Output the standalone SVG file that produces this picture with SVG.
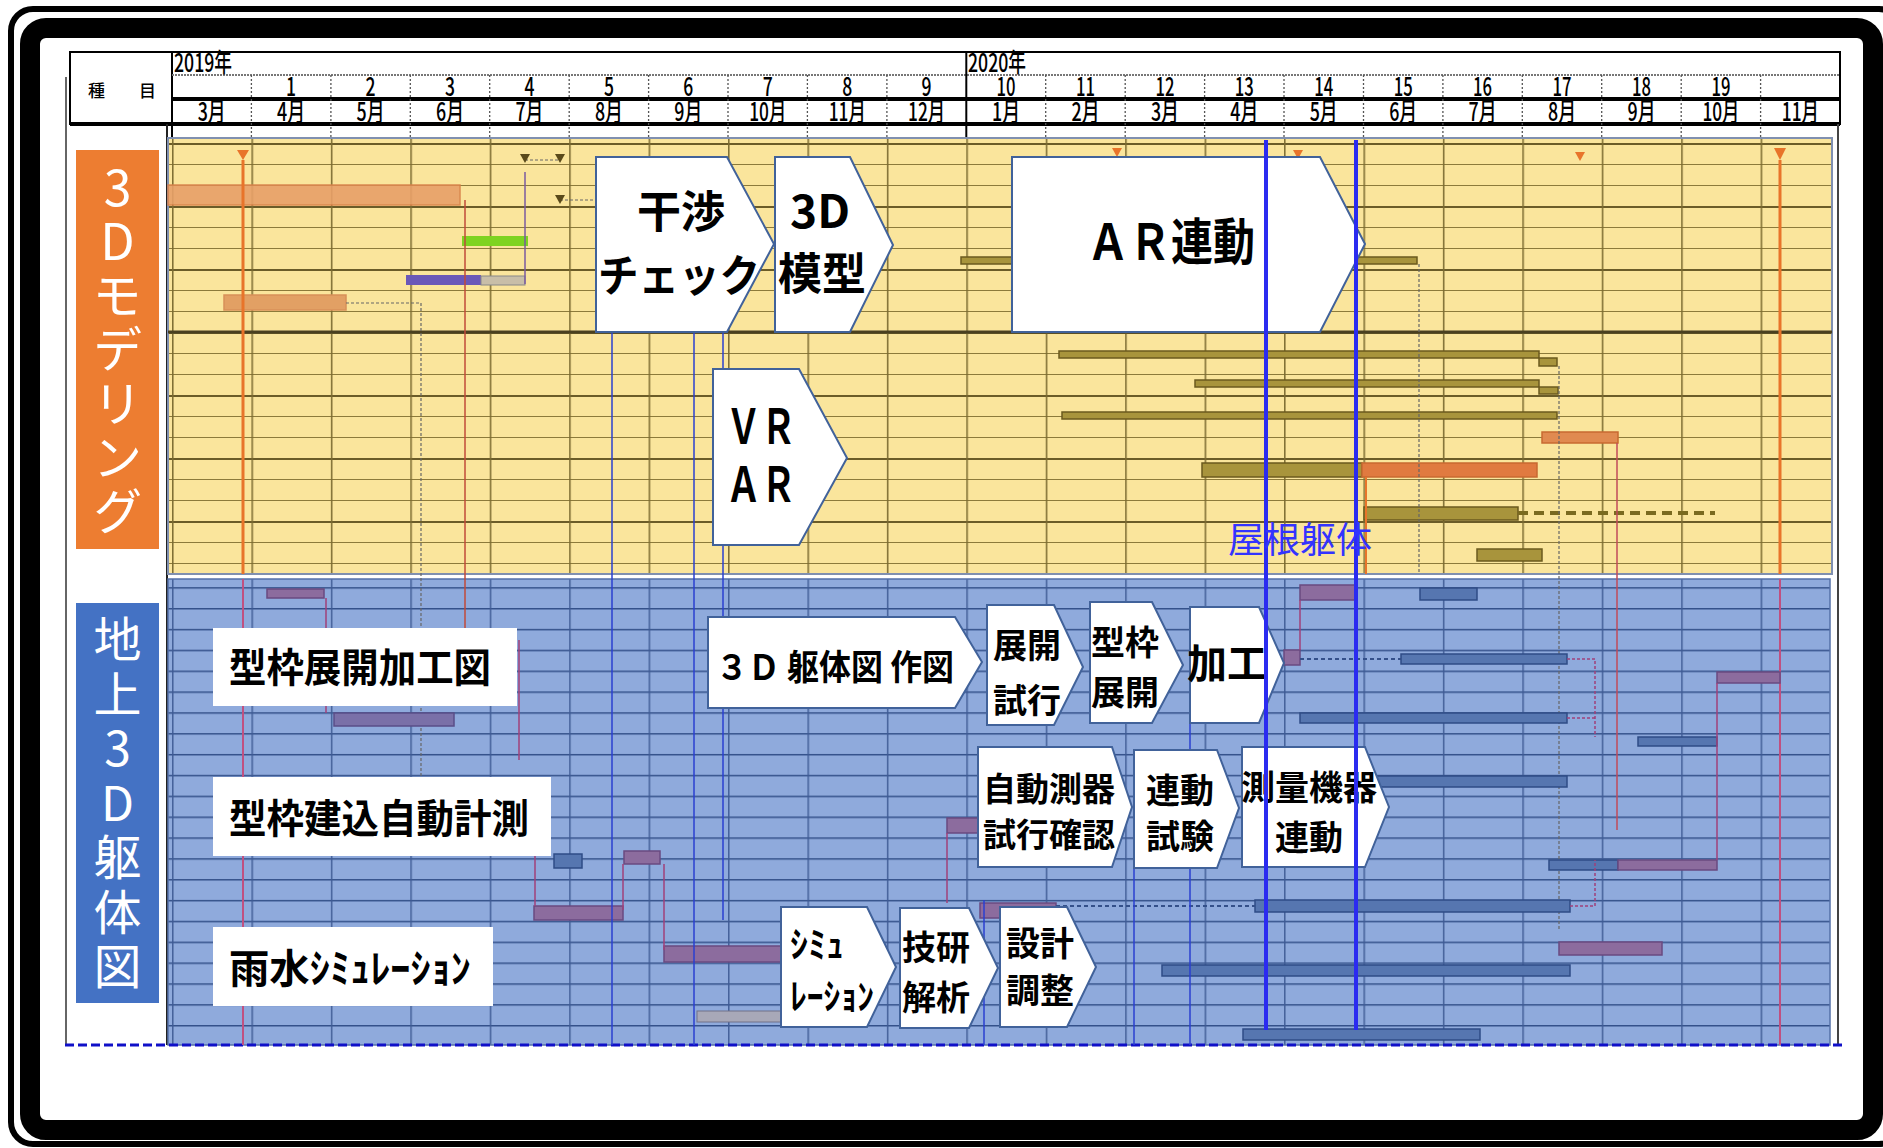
<svg xmlns="http://www.w3.org/2000/svg" width="1883" height="1148" viewBox="0 0 1883 1148">
<style>
.hd{font-family:"Noto Sans CJK JP","DejaVu Sans",sans-serif;font-size:26px;font-weight:500;fill:#000;text-anchor:middle}
.lbl{font-family:"Noto Sans CJK JP",sans-serif;fill:#fff;writing-mode:vertical-rl;text-orientation:upright}
.co{fill:#fff;stroke:#41629A;stroke-width:2}
.ct{font-family:"Noto Sans CJK JP",sans-serif;font-weight:700;fill:#000;text-anchor:middle}
.cl{font-family:"Noto Sans CJK JP",sans-serif;font-weight:700;fill:#000}
.ob{fill:#A8943C;stroke:#6B5A1E;stroke-width:1.5}
.bb{fill:#5676B0;stroke:#2F4C86;stroke-width:1.5}
.pb{fill:#8C6C9E;stroke:#6A4A80;stroke-width:1.5}
.bl{stroke:#2A3FD0;stroke-width:1.5;fill:none}
.pl{stroke:#A0407A;stroke-width:1.5;fill:none}
.cd{stroke:#666;stroke-width:1.2;stroke-dasharray:3 2}
</style>
<defs>
<pattern id="gy" x="172" y="206" width="79.43" height="63" patternUnits="userSpaceOnUse">
<rect width="79.43" height="63" fill="#FAE59C"/>
<line x1="0" y1="1" x2="79.43" y2="1" stroke="#6B5C28" stroke-width="2"/>
<line x1="0" y1="21.5" x2="79.43" y2="21.5" stroke="#8C7A3A" stroke-width="1.2"/>
<line x1="0" y1="42.5" x2="79.43" y2="42.5" stroke="#8C7A3A" stroke-width="1.2"/>
<line x1="0.8" y1="0" x2="0.8" y2="63" stroke="#7A6A30" stroke-width="1.5"/>
</pattern>
<pattern id="gb" x="172" y="608" width="79.43" height="20.85" patternUnits="userSpaceOnUse">
<rect width="79.43" height="20.85" fill="#8FAADC"/>
<line x1="0" y1="0.7" x2="79.43" y2="0.7" stroke="#34518A" stroke-width="1.4"/>
<line x1="0.8" y1="0" x2="0.8" y2="20.85" stroke="#3E5A94" stroke-width="1.4"/>
</pattern>
</defs>
<rect width="1883" height="1148" fill="#fff"/>
<rect x="11" y="9" width="1890" height="1135" rx="22" fill="none" stroke="#000" stroke-width="6"/>
<rect x="30" y="28" width="1843" height="1102" rx="16" fill="none" stroke="#000" stroke-width="20"/>

<g id="header">
<rect x="70" y="52" width="1770" height="72" fill="#fff" stroke="#000" stroke-width="2"/>
<line x1="172" y1="52" x2="172" y2="138" stroke="#000" stroke-width="2"/>
<line x1="172" y1="75" x2="1840" y2="75" stroke="#777" stroke-width="2" stroke-dasharray="2 1"/>
<line x1="172" y1="99" x2="1840" y2="99" stroke="#000" stroke-width="4"/>
<line x1="70" y1="124" x2="1840" y2="124" stroke="#000" stroke-width="4"/>
<g stroke="#555" stroke-width="1.3" stroke-dasharray="2 2">
<line x1="251.4" y1="75" x2="251.4" y2="138"/><line x1="330.9" y1="75" x2="330.9" y2="138"/>
<line x1="410.3" y1="75" x2="410.3" y2="138"/><line x1="489.7" y1="75" x2="489.7" y2="138"/>
<line x1="569.2" y1="75" x2="569.2" y2="138"/><line x1="648.6" y1="75" x2="648.6" y2="138"/>
<line x1="728" y1="75" x2="728" y2="138"/><line x1="807.4" y1="75" x2="807.4" y2="138"/>
<line x1="886.9" y1="75" x2="886.9" y2="138"/>
<line x1="1045.7" y1="75" x2="1045.7" y2="138"/><line x1="1125.2" y1="75" x2="1125.2" y2="138"/>
<line x1="1204.6" y1="75" x2="1204.6" y2="138"/><line x1="1284" y1="75" x2="1284" y2="138"/>
<line x1="1363.5" y1="75" x2="1363.5" y2="138"/><line x1="1442.9" y1="75" x2="1442.9" y2="138"/>
<line x1="1522.3" y1="75" x2="1522.3" y2="138"/><line x1="1601.7" y1="75" x2="1601.7" y2="138"/>
<line x1="1681.2" y1="75" x2="1681.2" y2="138"/><line x1="1760.6" y1="75" x2="1760.6" y2="138"/>
</g>
<line x1="966.3" y1="52" x2="966.3" y2="138" stroke="#000" stroke-width="2"/>
<line x1="66" y1="77" x2="66" y2="1045" stroke="#666" stroke-width="2"/>
<text x="88" y="97" font-family="Noto Sans CJK JP,sans-serif" font-size="17" font-weight="500">種</text>
<text x="139" y="97" font-family="Noto Sans CJK JP,sans-serif" font-size="17" font-weight="500">目</text>
<text x="174" y="72" class="hd" style="text-anchor:start" textLength="58" lengthAdjust="spacingAndGlyphs">2019年</text>
<text x="968" y="72" class="hd" style="text-anchor:start" textLength="58" lengthAdjust="spacingAndGlyphs">2020年</text>
<g>
<text x="291.1" y="96" class="hd" textLength="10" lengthAdjust="spacingAndGlyphs">1</text>
<text x="370.6" y="96" class="hd" textLength="10" lengthAdjust="spacingAndGlyphs">2</text>
<text x="450" y="96" class="hd" textLength="10" lengthAdjust="spacingAndGlyphs">3</text>
<text x="529.4" y="96" class="hd" textLength="10" lengthAdjust="spacingAndGlyphs">4</text>
<text x="608.9" y="96" class="hd" textLength="10" lengthAdjust="spacingAndGlyphs">5</text>
<text x="688.3" y="96" class="hd" textLength="10" lengthAdjust="spacingAndGlyphs">6</text>
<text x="767.7" y="96" class="hd" textLength="10" lengthAdjust="spacingAndGlyphs">7</text>
<text x="847.2" y="96" class="hd" textLength="10" lengthAdjust="spacingAndGlyphs">8</text>
<text x="926.6" y="96" class="hd" textLength="10" lengthAdjust="spacingAndGlyphs">9</text>
<text x="1006" y="96" class="hd" textLength="19" lengthAdjust="spacingAndGlyphs">10</text>
<text x="1085.5" y="96" class="hd" textLength="19" lengthAdjust="spacingAndGlyphs">11</text>
<text x="1164.9" y="96" class="hd" textLength="19" lengthAdjust="spacingAndGlyphs">12</text>
<text x="1244.3" y="96" class="hd" textLength="19" lengthAdjust="spacingAndGlyphs">13</text>
<text x="1323.7" y="96" class="hd" textLength="19" lengthAdjust="spacingAndGlyphs">14</text>
<text x="1403.2" y="96" class="hd" textLength="19" lengthAdjust="spacingAndGlyphs">15</text>
<text x="1482.6" y="96" class="hd" textLength="19" lengthAdjust="spacingAndGlyphs">16</text>
<text x="1562" y="96" class="hd" textLength="19" lengthAdjust="spacingAndGlyphs">17</text>
<text x="1641.5" y="96" class="hd" textLength="19" lengthAdjust="spacingAndGlyphs">18</text>
<text x="1720.9" y="96" class="hd" textLength="19" lengthAdjust="spacingAndGlyphs">19</text>
</g>
<g>
<text x="211.7" y="121" class="hd" textLength="28" lengthAdjust="spacingAndGlyphs">3月</text>
<text x="291.1" y="121" class="hd" textLength="28" lengthAdjust="spacingAndGlyphs">4月</text>
<text x="370.6" y="121" class="hd" textLength="28" lengthAdjust="spacingAndGlyphs">5月</text>
<text x="450" y="121" class="hd" textLength="28" lengthAdjust="spacingAndGlyphs">6月</text>
<text x="529.4" y="121" class="hd" textLength="28" lengthAdjust="spacingAndGlyphs">7月</text>
<text x="608.9" y="121" class="hd" textLength="28" lengthAdjust="spacingAndGlyphs">8月</text>
<text x="688.3" y="121" class="hd" textLength="28" lengthAdjust="spacingAndGlyphs">9月</text>
<text x="767.7" y="121" class="hd" textLength="37" lengthAdjust="spacingAndGlyphs">10月</text>
<text x="847.2" y="121" class="hd" textLength="37" lengthAdjust="spacingAndGlyphs">11月</text>
<text x="926.6" y="121" class="hd" textLength="37" lengthAdjust="spacingAndGlyphs">12月</text>
<text x="1006" y="121" class="hd" textLength="28" lengthAdjust="spacingAndGlyphs">1月</text>
<text x="1085.5" y="121" class="hd" textLength="28" lengthAdjust="spacingAndGlyphs">2月</text>
<text x="1164.9" y="121" class="hd" textLength="28" lengthAdjust="spacingAndGlyphs">3月</text>
<text x="1244.3" y="121" class="hd" textLength="28" lengthAdjust="spacingAndGlyphs">4月</text>
<text x="1323.7" y="121" class="hd" textLength="28" lengthAdjust="spacingAndGlyphs">5月</text>
<text x="1403.2" y="121" class="hd" textLength="28" lengthAdjust="spacingAndGlyphs">6月</text>
<text x="1482.6" y="121" class="hd" textLength="28" lengthAdjust="spacingAndGlyphs">7月</text>
<text x="1562" y="121" class="hd" textLength="28" lengthAdjust="spacingAndGlyphs">8月</text>
<text x="1641.5" y="121" class="hd" textLength="28" lengthAdjust="spacingAndGlyphs">9月</text>
<text x="1720.9" y="121" class="hd" textLength="37" lengthAdjust="spacingAndGlyphs">10月</text>
<text x="1800.3" y="121" class="hd" textLength="37" lengthAdjust="spacingAndGlyphs">11月</text>
</g>
</g>

<g id="gantt">
<line x1="167" y1="124" x2="167" y2="1045" stroke="#222" stroke-width="2"/>
<rect x="168" y="138" width="1664" height="436" fill="url(#gy)" stroke="#8090B0" stroke-width="2"/>
<rect x="168" y="579" width="1662" height="466" fill="url(#gb)" stroke="#5470A8" stroke-width="1.5"/>
<line x1="1838" y1="124" x2="1838" y2="1045" stroke="#444" stroke-width="2"/>
<line x1="168" y1="332" x2="1832" y2="332" stroke="#4A4020" stroke-width="3"/>
<line x1="65" y1="1045" x2="1842" y2="1045" stroke="#1010C8" stroke-width="3" stroke-dasharray="9 4"/>
<rect x="168" y="185" width="292" height="20" fill="#E8A068" stroke="#D88048" stroke-width="1.5" opacity="0.9"/>
<rect x="462" y="236" width="66" height="10" fill="#7ED321"/>
<rect x="406" y="275" width="75" height="10" fill="#6A58B8"/>
<rect x="481" y="276" width="44" height="9" fill="#C8BEA8" stroke="#888" stroke-width="1"/>
<rect x="224" y="295" width="122" height="15" fill="#E2A064" stroke="#D89058" stroke-width="1.5"/>
<path d="M346 303 H421 V780" class="cd" fill="none"/>
<line x1="465" y1="200" x2="465" y2="690" stroke="#C04A3A" stroke-width="1.5"/>
<line x1="525" y1="172" x2="525" y2="284" stroke="#7A5AA0" stroke-width="1.5"/>
<path d="M525 160 H560 M560 200 H596" class="cd" fill="none"/>
<polygon points="520,154 530,154 525,163" fill="#5A4A1A"/>
<polygon points="555,154 565,154 560,163" fill="#5A4A1A"/>
<polygon points="555,195 565,195 560,204" fill="#5A4A1A"/>
<line x1="243" y1="160" x2="243" y2="574" stroke="#E8742A" stroke-width="3"/>
<line x1="243" y1="579" x2="243" y2="1045" stroke="#C05080" stroke-width="2"/>
<polygon points="237,150 249,150 243,160" fill="#E8742A"/>
<line x1="1780" y1="160" x2="1780" y2="574" stroke="#E8742A" stroke-width="3"/>
<line x1="1780" y1="579" x2="1780" y2="1045" stroke="#C05080" stroke-width="2"/>
<polygon points="1774,148 1786,148 1780,160" fill="#E8742A"/>
<polygon points="1112,148 1122,148 1117,157" fill="#E8742A"/>
<polygon points="1293,150 1303,150 1298,159" fill="#E8742A"/>
<polygon points="1575,152 1585,152 1580,161" fill="#E8742A"/>
<rect x="961" y="257" width="456" height="7" class="ob"/>
<rect x="1059" y="351" width="480" height="7" class="ob"/>
<rect x="1539" y="358" width="18" height="8" class="ob"/>
<rect x="1195" y="380" width="344" height="7" class="ob"/>
<rect x="1539" y="387" width="19" height="7" class="ob"/>
<rect x="1062" y="412" width="495" height="7" class="ob"/>
<rect x="1542" y="432" width="76" height="11" fill="#E08A50" stroke="#C86A30" stroke-width="1.5"/>
<rect x="1202" y="463" width="160" height="14" class="ob"/>
<rect x="1362" y="463" width="175" height="14" fill="#E07A40" stroke="#C86A30" stroke-width="1.5"/>
<rect x="1364" y="507" width="154" height="13" class="ob"/>
<line x1="1518" y1="513" x2="1715" y2="513" stroke="#7A6A20" stroke-width="4" stroke-dasharray="10 6"/>
<rect x="1477" y="549" width="65" height="12" class="ob"/>
<line x1="1419" y1="264" x2="1419" y2="574" class="cd"/>
<line x1="1559" y1="366" x2="1559" y2="930" class="cd"/>
<line x1="1617" y1="443" x2="1617" y2="830" stroke="#C04A5A" stroke-width="1.5"/>
<line x1="1366" y1="477" x2="1366" y2="574" stroke="#E8742A" stroke-width="2"/>
<rect x="267" y="589" width="57" height="9" class="pb"/>
<rect x="334" y="713" width="120" height="13" fill="#7A70A8" stroke="#5A4E88" stroke-width="1.5"/>
<rect x="554" y="854" width="28" height="14" class="bb"/>
<rect x="624" y="851" width="36" height="13" class="pb"/>
<rect x="534" y="906" width="89" height="14" class="pb"/>
<rect x="664" y="946" width="117" height="16" class="pb"/>
<rect x="697" y="1011" width="84" height="11" fill="#A8A8B8" stroke="#707088" stroke-width="1"/>
<rect x="947" y="818" width="31" height="15" class="pb"/>
<rect x="980" y="903" width="76" height="15" class="pb"/>
<rect x="1284" y="650" width="16" height="15" class="pb"/>
<rect x="1300" y="585" width="57" height="15" class="pb"/>
<rect x="1420" y="588" width="57" height="12" class="bb"/>
<rect x="1401" y="654" width="166" height="10" class="bb"/>
<line x1="1300" y1="659" x2="1401" y2="659" stroke="#34508A" stroke-width="2" stroke-dasharray="4 3"/>
<rect x="1300" y="713" width="267" height="10" class="bb"/>
<rect x="1357" y="776" width="210" height="11" class="bb"/>
<rect x="1717" y="672" width="63" height="11" class="pb"/>
<rect x="1638" y="737" width="79" height="9" class="bb"/>
<rect x="1549" y="860" width="69" height="10" class="bb"/>
<rect x="1618" y="860" width="99" height="10" class="pb"/>
<rect x="1255" y="900" width="315" height="12" class="bb"/>
<line x1="1056" y1="906" x2="1255" y2="906" stroke="#34508A" stroke-width="2" stroke-dasharray="4 3"/>
<rect x="1559" y="942" width="103" height="13" class="pb"/>
<rect x="1162" y="965" width="408" height="11" class="bb"/>
<rect x="1243" y="1029" width="237" height="11" class="bb"/>
<path d="M1567 659 H1595 V737 M1567 718 H1595 M1570 906 H1595 V860" class="pl" stroke-dasharray="3 2"/>
<line x1="1717" y1="683" x2="1717" y2="860" class="pl"/>
<line x1="326" y1="598" x2="326" y2="713" class="pl"/>
<line x1="519" y1="640" x2="519" y2="760" class="pl"/>
<line x1="535" y1="790" x2="535" y2="906" class="pl"/>
<line x1="623" y1="864" x2="623" y2="910" class="pl"/>
<line x1="664" y1="864" x2="664" y2="950" class="pl"/>
<line x1="947" y1="833" x2="947" y2="903" class="pl"/>
<line x1="1300" y1="600" x2="1300" y2="650" class="pl"/>
<line x1="612" y1="332" x2="612" y2="1045" class="bl"/>
<line x1="694" y1="332" x2="694" y2="1045" class="bl"/>
<line x1="723" y1="332" x2="723" y2="920" class="bl"/>
<line x1="984" y1="900" x2="984" y2="1045" class="bl"/>
<line x1="1134" y1="868" x2="1134" y2="1045" class="bl"/>
<line x1="1190" y1="723" x2="1190" y2="1045" class="bl"/>
</g>

<g id="label-3d-modeling">
<rect x="76" y="150" width="83" height="399" fill="#ED7D31"/>
<text class="lbl" x="117.5" y="162" font-size="50" letter-spacing="4">3Dモデリング</text>
</g>
<g id="label-chijo">
<rect x="76" y="603" width="83" height="400" fill="#4472C4"/>
<text class="lbl" x="117.5" y="615" font-size="48" letter-spacing="6.5">地上3D躯体図</text>
</g>

<g id="node-kansho">
<polygon class="co" points="596,157 727,157 774,244 727,332 596,332"/>
<text class="ct" x="681" y="228" font-size="44">干渉</text>
<text class="cl" x="598" y="292" font-size="44" textLength="162" lengthAdjust="spacingAndGlyphs">チェック</text>
</g>
<g id="node-mokei">
<polygon class="co" points="775,157 850,157 893,245 850,332 775,332"/>
<text class="ct" x="820" y="228" font-size="46">3D</text>
<text class="ct" x="822" y="290" font-size="44">模型</text>
</g>
<g id="node-vrar">
<polygon class="co" points="713,369 799,369 847,458 799,545 713,545"/>
<text class="cl" x="726" y="444" font-size="48" textLength="70" lengthAdjust="spacingAndGlyphs">ＶＲ</text>
<text class="cl" x="726" y="502" font-size="48" textLength="70" lengthAdjust="spacingAndGlyphs">ＡＲ</text>
</g>
<g id="node-ar">
<polygon class="co" points="1012,157 1320,157 1365,244 1320,332 1012,332"/>
<text class="cl" x="1087" y="260" font-size="50" textLength="168" lengthAdjust="spacingAndGlyphs">ＡＲ連動</text>
</g>

<g id="node-katawaku-tenkai-kakouzu">
<rect x="213" y="628" width="304" height="78" fill="#fff"/>
<text class="cl" x="229" y="682" font-size="40" textLength="262" lengthAdjust="spacingAndGlyphs">型枠展開加工図</text>
</g>
<g id="node-katawaku-tatekomi">
<rect x="213" y="777" width="338" height="79" fill="#fff"/>
<text class="cl" x="229" y="833" font-size="40" textLength="300" lengthAdjust="spacingAndGlyphs">型枠建込自動計測</text>
</g>
<g id="node-usui">
<rect x="213" y="927" width="280" height="79" fill="#fff"/>
<text class="cl" x="229" y="983" font-size="40" textLength="242" lengthAdjust="spacingAndGlyphs">雨水ｼﾐｭﾚｰｼｮﾝ</text>
</g>

<g id="node-3d-kutai">
<polygon class="co" points="708,617 955,617 982,662 955,708 708,708"/>
<text class="cl" x="716" y="680" font-size="35" textLength="238" lengthAdjust="spacingAndGlyphs">３Ｄ 躯体図 作図</text>
</g>
<g id="node-tenkai-shiko">
<polygon class="co" points="987,605 1054,605 1083,667 1054,725 987,725"/>
<text class="ct" x="1027" y="658" font-size="34">展開</text>
<text class="ct" x="1027" y="713" font-size="34">試行</text>
</g>
<g id="node-katawaku-tenkai">
<polygon class="co" points="1090,602 1152,602 1183,665 1152,723 1090,723"/>
<text class="ct" x="1125" y="655" font-size="34">型枠</text>
<text class="ct" x="1125" y="705" font-size="34">展開</text>
</g>
<g id="node-kako">
<polygon class="co" points="1190,607 1259,607 1284,663 1259,723 1190,723"/>
<text class="ct" x="1227" y="678" font-size="40">加工</text>
</g>
<g id="node-jidou">
<polygon class="co" points="978,747 1112,747 1132,807 1112,867 978,867"/>
<text class="ct" x="1049" y="801" font-size="33">自動測器</text>
<text class="ct" x="1049" y="847" font-size="33">試行確認</text>
</g>
<g id="node-rendou-shiken">
<polygon class="co" points="1134,750 1217,750 1239,808 1217,868 1134,868"/>
<text class="ct" x="1180" y="803" font-size="34">連動</text>
<text class="ct" x="1180" y="849" font-size="34">試験</text>
</g>
<g id="node-sokuryo">
<polygon class="co" points="1242,747 1365,747 1389,807 1365,867 1242,867"/>
<text class="ct" x="1309" y="800" font-size="34">測量機器</text>
<text class="ct" x="1309" y="850" font-size="34">連動</text>
</g>
<g id="node-simulation">
<polygon class="co" points="781,907 867,907 896,967 867,1027 781,1027"/>
<text class="cl" x="790" y="958" font-size="36">ｼﾐｭ</text>
<text class="cl" x="790" y="1010" font-size="36" textLength="84" lengthAdjust="spacingAndGlyphs">ﾚｰｼｮﾝ</text>
</g>
<g id="node-giken">
<polygon class="co" points="900,908 969,908 998,968 969,1028 900,1028"/>
<text class="ct" x="936" y="960" font-size="34">技研</text>
<text class="ct" x="936" y="1010" font-size="34">解析</text>
</g>
<g id="node-sekkei">
<polygon class="co" points="1000,907 1067,907 1096,967 1067,1027 1000,1027"/>
<text class="ct" x="1040" y="956" font-size="34">設計</text>
<text class="ct" x="1040" y="1003" font-size="34">調整</text>
</g>

<g id="connectors">
<line x1="1266" y1="140" x2="1266" y2="1030" stroke="#2B2BF0" stroke-width="4"/>
<line x1="1356" y1="140" x2="1356" y2="1030" stroke="#2B2BF0" stroke-width="4"/>
</g>
<g id="node-okone">
<text x="1228" y="553" font-family="Noto Sans CJK JP,sans-serif" font-size="36" fill="#3333FF" textLength="144" lengthAdjust="spacingAndGlyphs">屋根躯体</text>
</g>
</svg>
